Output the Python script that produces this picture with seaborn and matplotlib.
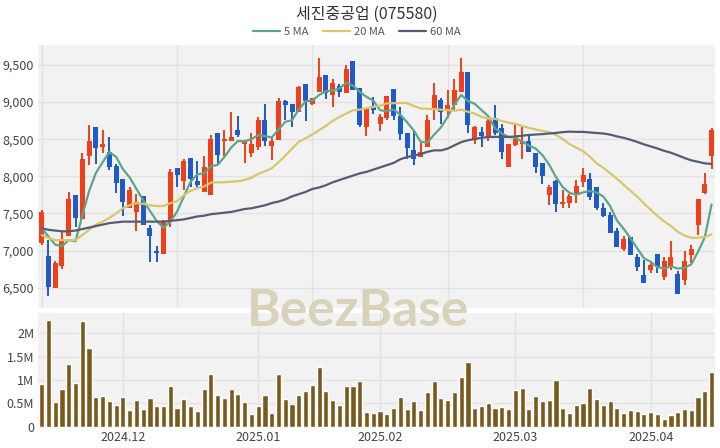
import numpy as np
import pandas as pd
import matplotlib
matplotlib.use('Agg')
import matplotlib.pyplot as plt
import seaborn as sns

# --- data (KRW, volume in millions) ---
open_ = [7100, 6930, 6490, 6790, 7200, 7750, 7420, 8270, 8660, 8390,
         8330, 8140, 7970, 7570, 7520, 7740, 7300, 7000, 6960, 7410,
         8110, 7940, 8250, 7940, 7790, 7750, 8580, 8470, 8470, 8630,
         8440, 8310, 8400, 8760, 8410, 8490, 9010, 8980, 8870, 9240,
         8980, 9130, 9370, 9100, 9210, 9120, 9550, 9190, 8670, 8950,
         8710, 8780, 9170, 8810, 8580, 8360, 8260, 8400, 8890, 9030,
         8900, 8960, 9130, 9400, 8490, 8600, 8540, 8780, 8650, 8120,
         8420, 8440, 8470, 8310, 8180, 7750, 7940, 7630, 7640, 7780,
         7930, 7970, 7860, 7570, 7480, 7260, 7020, 7180, 6920, 6670,
         6740, 6950, 6650, 6780, 6690, 6600, 6940, 7350, 7780, 8270]
high = [7550, 7140, 6860, 7250, 7790, 7750, 8310, 8690, 8660, 8620,
        8530, 8170, 7970, 7860, 7760, 7740, 7350, 7060, 7410, 8100,
        8110, 8240, 8250, 8200, 8270, 8560, 8580, 8620, 8870, 8810,
        8490, 8580, 8800, 8980, 8510, 9060, 9030, 8980, 9210, 9240,
        9060, 9590, 9370, 9310, 9250, 9500, 9550, 9190, 8920, 9070,
        8840, 9080, 9170, 8940, 8580, 8630, 8450, 8830, 9260, 9050,
        9160, 9310, 9590, 9400, 8680, 8670, 8780, 8960, 8710, 8440,
        8710, 8680, 8560, 8320, 8180, 7880, 7950, 7820, 7760, 7950,
        8110, 8050, 7860, 7640, 7520, 7300, 7190, 7180, 6960, 6870,
        6830, 6950, 6920, 7130, 6720, 6990, 7080, 7700, 8040, 8650]
low = [7080, 6390, 6490, 6750, 7200, 7320, 7420, 8150, 8170, 8310,
       8080, 7780, 7460, 7570, 7260, 7350, 6850, 6850, 6960, 7320,
       7860, 7820, 7860, 7830, 7790, 7750, 8150, 8270, 8470, 8530,
       8180, 8260, 8350, 8410, 8220, 8490, 8760, 8660, 8870, 8740,
       8960, 9130, 9040, 8940, 9070, 9120, 9160, 8670, 8540, 8840,
       8610, 8760, 8760, 8490, 8240, 8150, 8260, 8400, 8760, 8710,
       8780, 8890, 9130, 8580, 8440, 8390, 8470, 8560, 8240, 8120,
       8410, 8240, 8330, 8040, 7900, 7610, 7520, 7570, 7570, 7640,
       7860, 7680, 7550, 7450, 7240, 7050, 6990, 6940, 6720, 6570,
       6700, 6700, 6610, 6740, 6420, 6540, 6830, 7210, 7760, 8100]
close = [7520, 6510, 6830, 7150, 7700, 7440, 8230, 8470, 8380, 8430,
         8120, 7910, 7650, 7820, 7660, 7350, 7190, 6970, 7380, 8060,
         8020, 8200, 7970, 7890, 8120, 8500, 8290, 8500, 8530, 8560,
         8480, 8440, 8760, 8470, 8470, 9010, 8960, 8870, 9200, 9010,
         9060, 9340, 9120, 9260, 9140, 9440, 9160, 8690, 8920, 8890,
         8800, 9080, 8810, 8570, 8380, 8240, 8330, 8760, 9100, 8860,
         8960, 9160, 9400, 8690, 8670, 8540, 8750, 8590, 8330, 8440,
         8500, 8470, 8330, 8130, 8000, 7860, 7630, 7660, 7740, 7870,
         8020, 7720, 7570, 7460, 7240, 7050, 7150, 6940, 6780, 6570,
         6810, 6780, 6860, 6920, 6420, 6860, 7020, 7700, 7900, 8630]
volume_m = [0.92, 2.28, 0.53, 0.80, 1.35, 0.93, 2.25, 1.68, 0.64, 0.65,
            0.55, 0.47, 0.63, 0.36, 0.58, 0.38, 0.62, 0.45, 0.45, 0.88,
            0.41, 0.60, 0.45, 0.34, 0.80, 1.12, 0.68, 0.62, 0.80, 0.70,
            0.53, 0.27, 0.45, 0.68, 0.30, 1.12, 0.60, 0.48, 0.68, 0.76,
            0.90, 1.28, 0.76, 0.58, 0.46, 0.88, 0.86, 0.97, 0.32, 0.29,
            0.34, 0.27, 0.41, 0.64, 0.38, 0.55, 0.35, 0.74, 0.98, 0.61,
            0.58, 0.75, 1.06, 1.38, 0.41, 0.44, 0.51, 0.39, 0.42, 0.37,
            0.78, 0.83, 0.37, 0.66, 0.56, 0.58, 1.00, 0.41, 0.29, 0.47,
            0.50, 0.83, 0.59, 0.47, 0.56, 0.39, 0.30, 0.35, 0.34, 0.27,
            0.32, 0.27, 0.17, 0.24, 0.31, 0.38, 0.36, 0.63, 0.76, 1.18]

# moving-average values at the start of the window (history before it is not shown)
ma5_head = [7300, 7190, 7080, 7060]
ma20_head = [7210, 7170, 7140, 7140, 7140, 7140, 7210, 7280, 7350, 7390,
             7440, 7500, 7570, 7610, 7640, 7630, 7610, 7600, 7600]
ma60_head = [7300, 7280, 7270, 7260, 7260, 7270, 7290, 7310, 7330, 7350,
             7370, 7380, 7390, 7390, 7390, 7390, 7390, 7390, 7390, 7400,
             7410, 7420, 7440, 7460, 7470, 7490, 7500, 7510, 7520, 7540,
             7560, 7570, 7590, 7610, 7640, 7660, 7690, 7730, 7760, 7790,
             7830, 7850, 7880, 7920, 7950, 7980, 8010, 8040, 8060, 8090,
             8120, 8150, 8180, 8230, 8260, 8280, 8300, 8330, 8350]

krx_holidays = ['2024-12-25', '2024-12-31', '2025-01-01', '2025-01-27',
                '2025-01-28', '2025-01-29', '2025-01-30', '2025-03-03']
dates = pd.bdate_range('2024-11-14', '2025-04-14', freq='C', holidays=krx_holidays)

df = pd.DataFrame({'date': dates, 'open': open_, 'high': high, 'low': low,
                   'close': close, 'volume': np.array(volume_m) * 1e6})
df['idx'] = np.arange(len(df))
df['ma5'] = df['close'].rolling(5).mean()
df.loc[:3, 'ma5'] = ma5_head
df['ma20'] = df['close'].rolling(20).mean()
df.loc[:18, 'ma20'] = ma20_head
df['ma60'] = df['close'].rolling(60).mean()
df.loc[:58, 'ma60'] = ma60_head

# --- style ---
sns.set_theme(style='white')
plt.rcParams['font.family'] = ['Noto Sans CJK KR', 'DejaVu Sans']
BG = '#f2f2f2'
GRID = '#e2e2e2'
UP = '#f0401a'
DOWN = '#1f5bc6'
TXT = '#444444'

fig = plt.figure(figsize=(7.2, 4.48), dpi=100)
ax = fig.add_axes([0.0532, 0.3125, 0.9398, 0.5871])
axv = fig.add_axes([0.0532, 0.0475, 0.9398, 0.2538])

# --- candles ---
up = df['close'] >= df['open']
colors = np.where(up, UP, DOWN)
body_lo = df[['open', 'close']].min(axis=1)
body_h = (df['close'] - df['open']).abs().clip(lower=20)
ax.vlines(df['idx'], df['low'], df['high'], colors=colors, lw=1.4, zorder=3)
ax.bar(df['idx'], body_h, bottom=body_lo, width=0.74, color=colors,
       linewidth=0, zorder=4)

sns.lineplot(data=df, x='idx', y='ma5', ax=ax, color='#5ba68b', lw=1.6, label='5 MA', zorder=5)
sns.lineplot(data=df, x='idx', y='ma20', ax=ax, color='#d9c56a', lw=1.6, label='20 MA', zorder=5)
sns.lineplot(data=df, x='idx', y='ma60', ax=ax, color='#545d72', lw=1.6, label='60 MA', zorder=5)
handles, labels = ax.get_legend_handles_labels()
ax.get_legend().remove()

ax.set_xlim(-0.5, len(df) - 0.5)
ax.set_ylim(6227, 9769)
ax.set_yticks([6500, 7000, 7500, 8000, 8500, 9000, 9500])
ax.set_yticklabels([f'{v:,}' for v in [6500, 7000, 7500, 8000, 8500, 9000, 9500]])
ax.set_xticks([0, 20, 40, 60, 80])
ax.set_xticklabels([])

# --- volume ---
sns.barplot(data=df, x='idx', y='volume', ax=axv, color='#7a5a1c', saturation=1,
            width=0.76, native_scale=True, errorbar=None, zorder=3)
month_start = df.groupby(df['date'].dt.to_period('M'))['idx'].min().iloc[1:]
axv.set_xticks(month_start.values)
axv.set_xticklabels([p.strftime('%Y.%m') for p in month_start.index])
axv.set_xlim(-0.5, len(df) - 0.5)
axv.set_ylim(0, 2.43e6)
axv.set_yticks([0, 0.5e6, 1e6, 1.5e6, 2e6])
axv.set_yticklabels(['0', '0.5M', '1M', '1.5M', '2M'])

for a in (ax, axv):
    a.set_facecolor(BG)
    a.grid(True, color=GRID, lw=0.9)
    a.set_axisbelow(True)
    for s in a.spines.values():
        s.set_visible(False)
    a.set_xlabel('')
    a.set_ylabel('')
    a.tick_params(length=0, labelsize=9, colors=TXT, pad=3)

fig.text(0.51, 1 - 14 / 448, '세진중공업 (075580)', ha='center', va='center',
         fontsize=11.5, color='#333333')
fig.legend(handles, labels, loc='center', bbox_to_anchor=(357 / 720, 1 - 32 / 448),
           ncol=3, frameon=False, fontsize=8, handlelength=2.4, handletextpad=0.4,
           columnspacing=1.3, labelcolor='#555555')
fig.text(358 / 720, 1 - 311 / 448, 'BeezBase', ha='center', va='center',
         fontsize=37, fontweight='bold', color='#d9d2bb', family='Lato', zorder=0)

fig.savefig('out.png', dpi=100)
